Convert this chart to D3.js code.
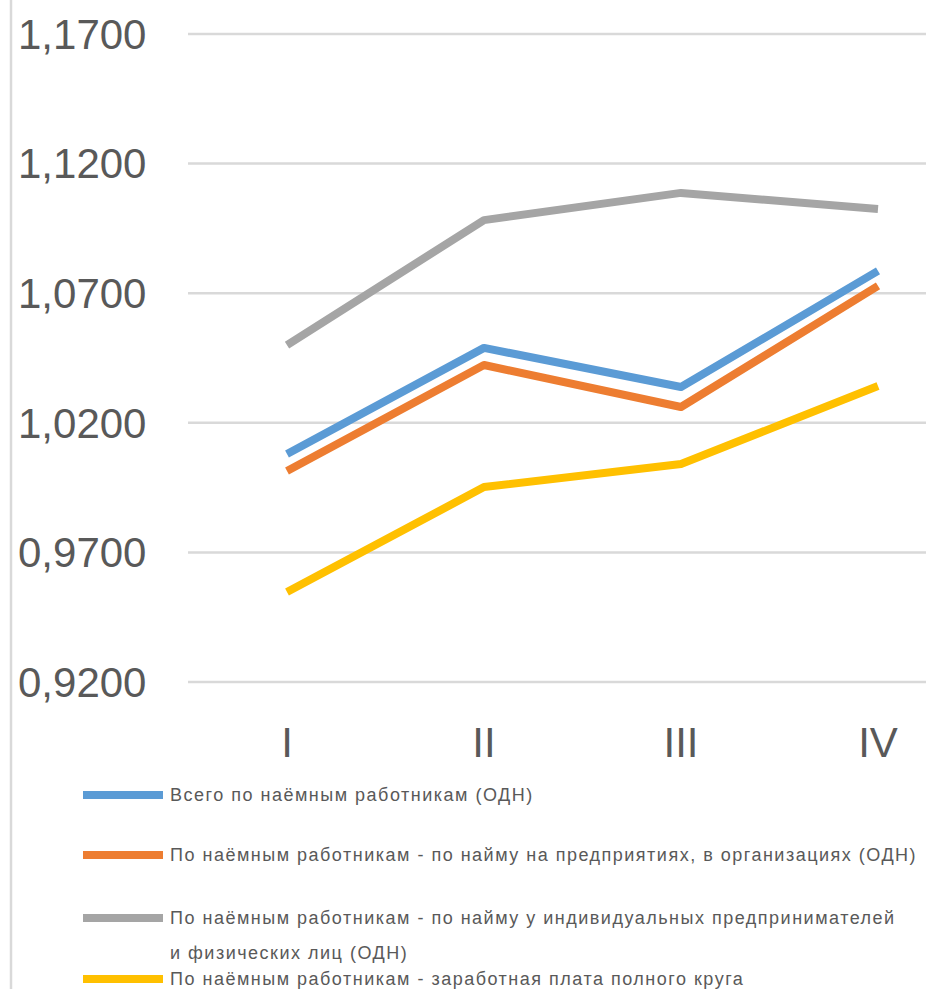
<!DOCTYPE html>
<html>
<head>
<meta charset="utf-8">
<script src="https://cdn.jsdelivr.net/npm/d3@7"></script>
<style>
  body { margin: 0; background: #fff; }
  svg { display: block; }
</style>
</head>
<body>
<div id="chart"></div>
<script>
// data
const quarters = ["I", "II", "III", "IV"];
const seriesNames = [
  "Всего по наёмным работникам (ОДН)",
  "По наёмным работникам - по найму на предприятиях, в организациях (ОДН)",
  "По наёмным работникам - по найму у индивидуальных предпринимателей|и физических лиц (ОДН)",
  "По наёмным работникам - заработная плата полного круга"
];
const totalVals = [1.0080, 1.0489, 1.0338, 1.0786];
const enterpriseVals = [1.0014, 1.0423, 1.0261, 1.0728];
const individualVals = [1.0500, 1.0982, 1.1087, 1.1025];
const fullWageVals = [0.9547, 0.9952, 1.0041, 1.0342];
const yTicks = [0.92, 0.97, 1.02, 1.07, 1.12, 1.17];

const colors = ["#5b9bd5", "#ed7d31", "#a5a5a5", "#ffc000"];
const allVals = [totalVals, enterpriseVals, individualVals, fullWageVals];

const width = 926, height = 989;

const svg = d3.select("#chart").append("svg")
  .attr("width", width)
  .attr("height", height);

// left border of the chart area
svg.append("line")
  .attr("x1", 11).attr("x2", 11)
  .attr("y1", 0).attr("y2", height)
  .attr("stroke", "#d9d9d9").attr("stroke-width", 2.5);

const y = d3.scaleLinear().domain([0.92, 1.17]).range([682, 34]);
const x = d3.scalePoint().domain(quarters).range([287, 878]);

// gridlines
svg.append("g").selectAll("line")
  .data(yTicks)
  .join("line")
  .attr("x1", 188).attr("x2", width)
  .attr("y1", d => y(d)).attr("y2", d => y(d))
  .attr("stroke", "#d9d9d9").attr("stroke-width", 2.5);

// y tick labels
const fmt = d => d3.format(".4f")(d).replace(".", ",");
svg.append("g").selectAll("text")
  .data(yTicks)
  .join("text")
  .attr("x", 18)
  .attr("y", d => y(d))
  .attr("dy", "0.35em")
  .attr("font-family", "Liberation Sans, Arial, sans-serif")
  .attr("font-size", 42)
  .attr("fill", "#595959")
  .text(fmt);

// category labels
svg.append("g").selectAll("text")
  .data(quarters)
  .join("text")
  .attr("x", d => x(d))
  .attr("y", 742)
  .attr("dy", "0.35em")
  .attr("text-anchor", "middle")
  .attr("font-family", "Liberation Sans, Arial, sans-serif")
  .attr("font-size", 42)
  .attr("fill", "#595959")
  .text(d => d);

// lines
const line = d3.line()
  .x((d, i) => x(quarters[i]))
  .y(d => y(d));

svg.append("g").selectAll("path")
  .data(allVals)
  .join("path")
  .attr("d", line)
  .attr("fill", "none")
  .attr("stroke", (d, i) => colors[i])
  .attr("stroke-width", 8)
  .attr("stroke-linejoin", "round");

// legend
const legendY = [795, 855, 918, 979];
const legend = svg.append("g");
seriesNames.forEach((name, i) => {
  legend.append("line")
    .attr("x1", 83).attr("x2", 163)
    .attr("y1", legendY[i]).attr("y2", legendY[i])
    .attr("stroke", colors[i]).attr("stroke-width", 8);
  const t = legend.append("text")
    .attr("x", 170)
    .attr("y", legendY[i])
    .attr("font-family", "Liberation Sans, Arial, sans-serif")
    .attr("font-size", 18)
    .attr("letter-spacing", 1.5)
    .attr("fill", "#595959");
  name.split("|").forEach((part, j) => {
    t.append("tspan")
      .attr("x", 170)
      .attr("dy", j === 0 ? "0.35em" : "1.95em")
      .text(part);
  });
});
</script>
</body>
</html>
